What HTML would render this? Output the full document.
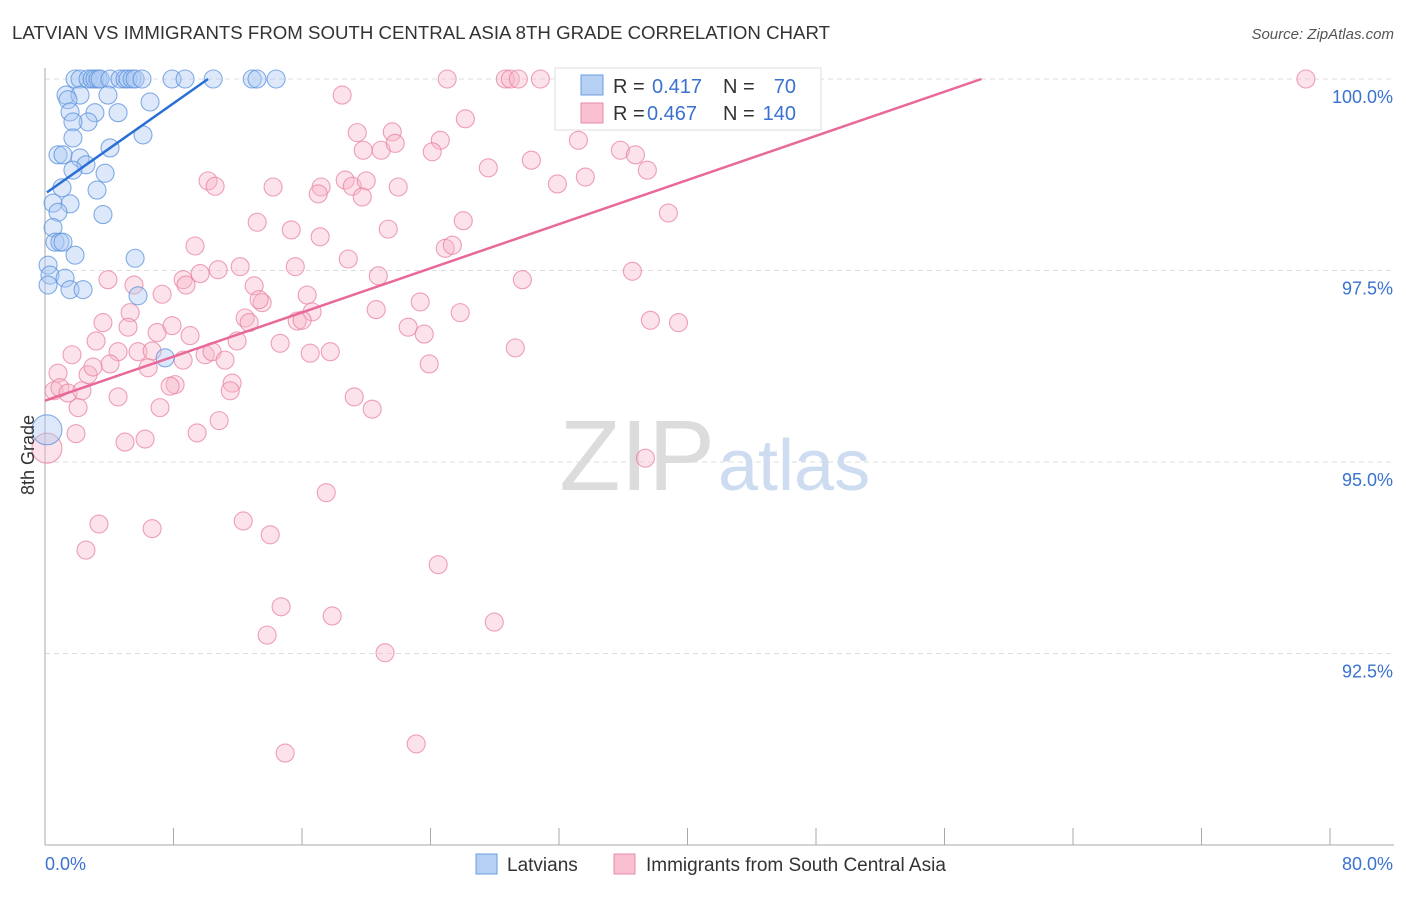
<!DOCTYPE html>
<html><head><meta charset="utf-8"><style>
body{margin:0;background:#fff;font-family:"Liberation Sans",sans-serif}
svg text{font-family:"Liberation Sans",sans-serif}
</style></head><body>
<svg id="chart" width="1406" height="892">
<text x="12" y="39" font-size="18" fill="#333" textLength="818" lengthAdjust="spacingAndGlyphs">LATVIAN VS IMMIGRANTS FROM SOUTH CENTRAL ASIA 8TH GRADE CORRELATION CHART</text>
<text x="1394" y="39" font-size="15" fill="#555" text-anchor="end" font-style="italic">Source: ZipAtlas.com</text>
<g id="grid"></g>
<text x="715" y="490" font-size="100" fill="#dcdcdc" text-anchor="end" font-family="Liberation Serif">ZIP</text>
<text x="718" y="490" font-size="72" fill="#cddcf1">atlas</text>
<g id="pts"></g>
<text transform="translate(34,455) rotate(-90)" font-size="18" fill="#333" text-anchor="middle">8th Grade</text>
<g>
<rect x="555" y="68" width="266" height="62" fill="#fff" stroke="#ddd"/>
<rect x="581" y="75" width="22" height="20" fill="#b5d0f3" stroke="#6a9de0"/>
<rect x="581" y="103" width="22" height="20" fill="#f8c0d0" stroke="#e88aa8"/>
<text x="613" y="93" font-size="20" fill="#333">R =</text>
<text x="652" y="93" font-size="20" fill="#3a72d0">0.417</text>
<text x="723" y="93" font-size="20" fill="#333">N =</text>
<text x="796" y="93" font-size="20" fill="#3a72d0" text-anchor="end">70</text>
<text x="613" y="120" font-size="20" fill="#333">R =</text>
<text x="647" y="120" font-size="20" fill="#3a72d0">0.467</text>
<text x="723" y="120" font-size="20" fill="#333">N =</text>
<text x="796" y="120" font-size="20" fill="#3a72d0" text-anchor="end">140</text>
</g>
<g>
<rect x="476" y="854" width="21" height="20" fill="#b5d0f3" stroke="#6a9de0"/>
<text x="507" y="871" font-size="19" fill="#333">Latvians</text>
<rect x="614" y="854" width="21" height="20" fill="#f8c0d0" stroke="#e88aa8"/>
<text x="646" y="871" font-size="19" fill="#333">Immigrants from South Central Asia</text>
</g>
</svg>
<script>
const xTickVals=[0,8,16,24,32,40,48,56,64,72,80];
const yTickVals=[100,97.5,95,92.5];
const yTickLabels=["100.0%","97.5%","95.0%","92.5%"];
const xEndLabels=["0.0%","80.0%"];
const blueX=[1.87,2.18,2.68,2.93,3.11,3.30,3.43,4.05,4.67,4.98,5.17,5.42,5.61,6.04,7.91,8.72,10.47,12.9,13.2,14.39,1.31,2.18,3.92,6.54,1.43,1.56,3.11,4.55,2.68,1.74,6.1,1.74,0.81,1.12,2.18,4.05,2.55,1.74,3.74,1.06,3.24,0.5,1.56,0.81,3.61,0.5,0.62,0.93,1.12,1.87,5.61,0.19,0.31,1.25,0.19,1.56,2.37,5.79,7.48,0.12];
const blueY=[100,100,100,100,100,100,100,100,100,100,100,100,100,100,100,100,100,100,100,100,99.79,99.79,99.79,99.70,99.73,99.57,99.56,99.56,99.44,99.44,99.27,99.23,99.01,99.01,98.97,99.10,98.88,98.81,98.77,98.58,98.55,98.38,98.37,98.26,98.23,98.06,97.87,97.87,97.87,97.70,97.66,97.57,97.44,97.40,97.31,97.25,97.25,97.17,96.36,95.42];
const pinkX=[25.04,28.66,28.97,29.47,30.84,32.83,41.62,78.5,18.5,26.17,19.44,21.62,24.61,19.81,20.93,21.8,24.11,33.21,35.82,36.76,30.28,27.6,37.5,10.15,10.59,14.2,17.19,17.01,18.69,19.13,20.0,21.99,19.75,31.9,33.64,38.81,13.21,15.33,17.13,26.04,21.37,9.34,24.92,25.36,18.88,12.15,15.58,20.75,29.72,36.57,3.92,5.54,8.6,8.78,9.66,10.78,13.02,16.32,7.29,13.52,13.33,16.63,23.36,20.62,25.85,12.46,12.71,15.7,16.01,3.61,5.3,5.17,6.98,7.91,9.03,22.61,23.61,37.69,39.44,3.18,4.55,5.79,6.67,4.05,6.42,9.97,10.4,11.21,11.96,14.64,16.51,17.76,8.6,29.28,23.92,1.68,0.81,2.68,2.99,0.56,0.93,1.43,2.3,8.1,7.79,11.65,11.53,4.55,19.25,20.37,2.06,7.16,10.84,9.47,1.93,4.98,6.23,0.12,37.38,17.51,3.36,6.67,12.34,14.02,2.55,24.48,14.7,17.88,27.97,13.83,21.17,23.11,14.95];
const pinkY=[100,100,100,100,100,100,100,100,99.79,99.48,99.30,99.31,99.20,99.07,99.07,99.16,99.05,99.20,99.07,99.01,98.94,98.84,98.81,98.67,98.60,98.59,98.59,98.50,98.68,98.60,98.67,98.59,98.46,98.63,98.72,98.25,98.13,98.03,97.94,98.15,98.04,97.82,97.79,97.83,97.65,97.55,97.55,97.43,97.38,97.49,97.38,97.31,97.38,97.31,97.46,97.51,97.30,97.18,97.19,97.08,97.12,96.96,97.09,96.99,96.95,96.88,96.82,96.84,96.85,96.82,96.95,96.76,96.69,96.78,96.65,96.76,96.67,96.85,96.82,96.58,96.44,96.44,96.45,96.28,96.23,96.40,96.44,96.33,96.58,96.55,96.42,96.44,96.33,96.49,96.28,96.40,96.16,96.14,96.24,95.93,95.97,95.90,95.93,96.01,95.99,96.03,95.93,95.85,95.85,95.69,95.71,95.71,95.54,95.38,95.37,95.26,95.30,95.18,95.05,94.60,94.19,94.13,94.23,94.05,93.85,93.66,93.11,92.99,92.91,92.74,92.51,91.32,91.20];
const blueTrendX=[0.12,10.15], blueTrendY=[98.52,100];
const pinkTrendX=[0,58.3], pinkTrendY=[95.8,100];

const NS="http://www.w3.org/2000/svg";
const X0=45,X1=1330,Y100=79,PXPER=76.6;
const sx=v=>X0+(v/80)*(X1-X0);
const sy=v=>Y100+(100-v)*PXPER;
function mk(tag,attrs,parent){const e=document.createElementNS(NS,tag);for(const k in attrs)e.setAttribute(k,attrs[k]);parent.appendChild(e);return e;}
const grid=document.getElementById('grid'),pts=document.getElementById('pts');
yTickVals.forEach((v,i)=>{
  const l=mk('line',{x1:X0,x2:1394,y1:sy(v),y2:sy(v),stroke:'#ddd','stroke-dasharray':'5,4'},grid);
  
  
  const t=mk('text',{x:1393,y:sy(v)+24,'font-size':18,fill:'#3a72d0','text-anchor':'end'},grid);
  t.textContent=yTickLabels[i];
  
  
});
const ax=mk('line',{x1:X0,x2:X0,y1:68,y2:845,stroke:'#aaa'},grid);


const bx=mk('line',{x1:X0,x2:1394,y1:845,y2:845,stroke:'#aaa'},grid);


xTickVals.forEach(v=>{
  const t=mk('line',{x1:sx(v),x2:sx(v),y1:828,y2:845,stroke:'#aaa'},grid);
  
  
});
[[xEndLabels[0],45,'start'],[xEndLabels[1],1393,'end']].forEach(([s,x,a])=>{
  const t=mk('text',{x:x,y:870,'font-size':18,fill:'#3a72d0','text-anchor':a},grid);
  t.textContent=s;
  
  
});
function drawPts(X,Y,fill,stroke,name){
  X.forEach((x,i)=>{
    const big=(x<0.2&&(Y[i]<95.5));
    const c=mk('circle',{cx:sx(x),cy:sy(Y[i]),r:big?15:9,fill:fill,'fill-opacity':0.4,stroke:stroke,'stroke-opacity':0.75,'stroke-width':1.1},pts);
    
    
  });
}
drawPts(pinkX,pinkY,'#f7b6ca','#e8819f','immigrant-point');
drawPts(blueX,blueY,'#aac8f2','#5b92dd','latvian-point');
const pl=mk('line',{x1:sx(pinkTrendX[0]),y1:sy(pinkTrendY[0]),x2:sx(pinkTrendX[1]),y2:sy(pinkTrendY[1]),stroke:'#e8689a','stroke-width':2.5},pts);


const bl=mk('line',{x1:sx(blueTrendX[0]),y1:sy(blueTrendY[0]),x2:sx(blueTrendX[1]),y2:sy(blueTrendY[1]),stroke:'#2a6fd6','stroke-width':2.5},pts);


</script>
</body></html>
